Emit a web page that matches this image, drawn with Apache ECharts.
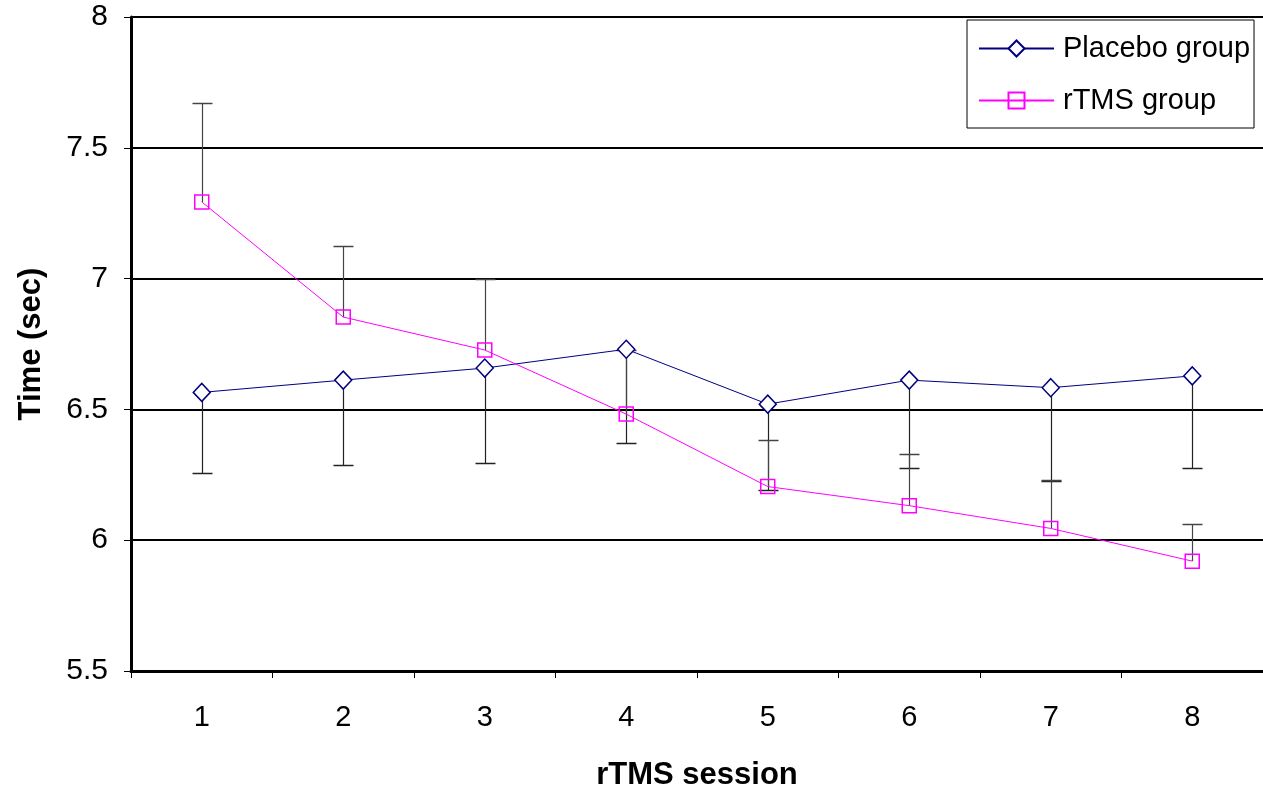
<!DOCTYPE html>
<html>
<head>
<meta charset="utf-8">
<title>rTMS session times</title>
<script src="https://cdn.jsdelivr.net/npm/echarts@6/dist/echarts.min.js"></script>
<style>
  html, body { margin: 0; padding: 0; background: #fff; }
  #chart { width: 1263px; height: 794px; }
</style>
</head>
<body>
<div id="chart"></div>
<script>
// Sessions on the x axis
const sessions = ['1', '2', '3', '4', '5', '6', '7', '8'];

// Mean time per session (sec)
const placeboMean = [6.565, 6.612, 6.658, 6.730, 6.520, 6.612, 6.583, 6.628];
const rtmsMean    = [7.293, 6.853, 6.727, 6.482, 6.205, 6.132, 6.045, 5.920];

// Error bar ends: placebo drawn downward, rTMS drawn upward
const placeboLower = [6.256, 6.287, 6.296, 6.370, 6.192, 6.275, 6.225, 6.276];
const rtmsUpper    = [7.670, 7.126, 7.000, 6.727, 6.383, 6.328, 6.232, 6.062];

// Y axis range and step
const yMin = 5.5, yMax = 8, yStep = 0.5;

const FONT = 'Liberation Sans, Arial, sans-serif';

function errorBarSeries(name, means, ends, color) {
  return {
    type: 'custom',
    name: name + ' error',
    z: 1,
    silent: true,
    data: means.map((m, i) => [i, m, ends[i]]),
    renderItem: function (params, api) {
      const i = api.value(0);
      const p0 = api.coord([i, api.value(1)]);
      const p1 = api.coord([i, api.value(2)]);
      const half = 10;
      const x = Math.round(p0[0]) + 0.5;
      const y1 = Math.round(p1[1]) + 0.5;
      return {
        type: 'group',
        children: [
          { type: 'line', shape: { x1: x, y1: p0[1], x2: x, y2: y1 },
            style: { stroke: color, lineWidth: 1.2 } },
          { type: 'line', shape: { x1: x - half, y1: y1, x2: x + half, y2: y1 },
            style: { stroke: color, lineWidth: 1.5 } }
        ]
      };
    }
  };
}

const chart = echarts.init(document.getElementById('chart'), null, { renderer: 'canvas' });

chart.setOption({
  animation: false,
  backgroundColor: '#ffffff',
  grid: { left: 131, top: 17, right: 0, bottom: 123, containLabel: false, outerBoundsMode: 'none' },
  legend: {
    orient: 'vertical',
    left: 967,
    top: 20,
    width: 290,
    padding: [14, 4, 13, 11],
    itemGap: 23,
    itemWidth: 75,
    itemHeight: 20,
    backgroundColor: '#ffffff',
    borderColor: '#000000',
    borderWidth: 1,
    borderRadius: 0,
    textStyle: { fontFamily: FONT, fontSize: 29, color: '#000', padding: [0, 0, 0, 4] },
    data: ['Placebo group', 'rTMS group']
  },
  xAxis: {
    type: 'category',
    data: sessions,
    boundaryGap: true,
    name: 'rTMS session',
    nameLocation: 'middle',
    nameGap: 89,
    nameTextStyle: { fontFamily: FONT, fontSize: 31, fontWeight: 'bold', color: '#000' },
    axisLine: { onZero: false, lineStyle: { color: '#000', width: 3 } },
    axisTick: { show: true, alignWithLabel: false, length: 7, lineStyle: { color: '#000', width: 1 } },
    axisLabel: { fontFamily: FONT, fontSize: 29, color: '#000', margin: 32 },
    splitLine: { show: false }
  },
  yAxis: {
    type: 'value',
    min: yMin,
    max: yMax,
    interval: yStep,
    name: 'Time (sec)',
    nameLocation: 'middle',
    nameGap: 84,
    nameTextStyle: { fontFamily: FONT, fontSize: 31, fontWeight: 'bold', color: '#000' },
    axisLine: { show: true, lineStyle: { color: '#000', width: 3 } },
    axisTick: { show: true, length: 7, lineStyle: { color: '#000', width: 1 } },
    axisLabel: { fontFamily: FONT, fontSize: 30, color: '#000', margin: 23 },
    splitLine: { show: true, lineStyle: { color: '#000', width: 2 } }
  },
  series: [
    errorBarSeries('Placebo group', placeboMean, placeboLower, '#222222'),
    errorBarSeries('rTMS group', rtmsMean, rtmsUpper, '#444444'),
    {
      name: 'Placebo group',
      type: 'line',
      z: 3,
      data: placeboMean,
      symbol: 'diamond',
      symbolSize: [17, 18],
      showAllSymbol: true,
      lineStyle: { color: '#000080', width: 1 },
      itemStyle: { color: '#ffffff', borderColor: '#000080', borderWidth: 1.5 }
    },
    {
      name: 'rTMS group',
      type: 'line',
      z: 3,
      data: rtmsMean,
      symbol: 'rect',
      symbolSize: 14,
      showAllSymbol: true,
      lineStyle: { color: '#ff00ff', width: 1 },
      itemStyle: { color: 'rgba(255,255,255,0)', borderColor: '#ff00ff', borderWidth: 1.5 }
    }
  ]
});
</script>
</body>
</html>
